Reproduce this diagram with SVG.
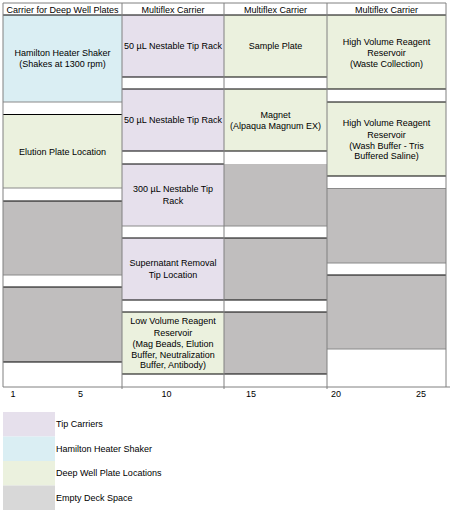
<svg xmlns="http://www.w3.org/2000/svg" width="451" height="515" viewBox="0 0 451 515">
<style>
text{font-family:"Liberation Sans",Arial,sans-serif;font-size:9px;fill:#000;text-anchor:middle;dominant-baseline:central}
.lg{text-anchor:start}
.tip{fill:#E6E0EC}
.hhs{fill:#DAEEF3}
.dwp{fill:#EBF1DE}
.emp{fill:#C0BEBE}
.emp2{fill:#D8D8D8}
.bk{stroke:#000;stroke-width:1}
.gy{stroke:#8a8a8a;stroke-width:1}
.fr{stroke:#808080;stroke-width:1;fill:none}
</style>
<rect x="0" y="0" width="451" height="515" fill="#fff"/>

<g id="col1">
  <g id="heater-shaker"><rect class="hhs" x="3" y="15" width="119" height="87"/>
    <text x="62.5" y="53">Hamilton Heater Shaker</text><text x="62.5" y="63.5">(Shakes at 1300 rpm)</text></g>
  <g id="elution-plate"><rect class="dwp" x="3" y="114.5" width="119" height="73.5"/>
    <text x="62.5" y="151.5">Elution Plate Location</text></g>
  <g id="c1-empty1"><rect class="emp" x="3" y="201" width="119" height="74"/></g>
  <g id="c1-empty2"><rect class="emp" x="3" y="287" width="119" height="75"/></g>
</g>

<g id="col2">
  <g id="tip50a"><rect class="tip" x="122" y="15" width="102" height="62"/>
    <text x="173" y="45.5">50 µL Nestable Tip Rack</text></g>
  <g id="tip50b"><rect class="tip" x="122" y="89" width="102" height="62"/>
    <text x="173" y="120">50 µL Nestable Tip Rack</text></g>
  <g id="tip300"><rect class="tip" x="122" y="164" width="102" height="62"/>
    <text x="173" y="188.5">300 µL Nestable Tip</text><text x="173" y="200.5">Rack</text></g>
  <g id="supernatant"><rect class="tip" x="122" y="238" width="102" height="62"/>
    <text x="173" y="262.5">Supernatant Removal</text><text x="173" y="275">Tip Location</text></g>
  <g id="low-volume"><rect class="dwp" x="122" y="312" width="102" height="62"/>
    <text x="173" y="320.5">Low Volume Reagent</text><text x="173" y="333">Reservoir</text>
    <text x="173" y="344">(Mag Beads, Elution</text><text x="173" y="354.5">Buffer, Neutralization</text>
    <text x="173" y="365">Buffer, Antibody)</text></g>
</g>

<g id="col3">
  <g id="sample-plate"><rect class="dwp" x="224" y="15" width="103" height="62"/>
    <text x="275.5" y="45.5">Sample Plate</text></g>
  <g id="magnet"><rect class="dwp" x="224" y="89" width="103" height="62"/>
    <text x="275.5" y="115">Magnet</text><text x="275.5" y="126">(Alpaqua Magnum EX)</text></g>
  <g id="c3-empty1"><rect class="emp" x="224" y="164" width="103" height="62"/></g>
  <g id="c3-empty2"><rect class="emp" x="224" y="238" width="103" height="62"/></g>
  <g id="c3-empty3"><rect class="emp" x="224" y="312" width="103" height="62"/></g>
</g>

<g id="col4">
  <g id="hv-waste"><rect class="dwp" x="327" y="15" width="119" height="74"/>
    <text x="386.5" y="41.5">High Volume Reagent</text><text x="386.5" y="52.5">Reservoir</text>
    <text x="386.5" y="63.5">(Waste Collection)</text></g>
  <g id="hv-wash"><rect class="dwp" x="327" y="102" width="119" height="74"/>
    <text x="386.5" y="122.5">High Volume Reagent</text><text x="386.5" y="135">Reservoir</text>
    <text x="386.5" y="145.5">(Wash Buffer - Tris</text><text x="386.5" y="155.5">Buffered Saline)</text></g>
  <g id="c4-empty1"><rect class="emp" x="327" y="188.5" width="119" height="74.5"/></g>
  <g id="c4-empty2"><rect class="emp" x="327" y="275" width="119" height="74"/></g>
</g>

<g id="lines">
  <line class="bk" x1="3" y1="15" x2="446" y2="15"/>
  <line class="gy" x1="3" y1="102" x2="122" y2="102"/>
  <line class="bk" x1="3" y1="114.5" x2="122" y2="114.5"/>
  <line class="gy" x1="3" y1="188" x2="122" y2="188"/>
  <line class="bk" x1="3" y1="201" x2="122" y2="201"/>
  <line class="gy" x1="3" y1="275" x2="122" y2="275"/>
  <line class="bk" x1="3" y1="287" x2="122" y2="287"/>
  <line class="bk" x1="3" y1="362" x2="122" y2="362"/>

  <line class="bk" x1="122" y1="77" x2="327" y2="77"/>
  <line class="bk" x1="122" y1="89" x2="327" y2="89"/>
  <line class="bk" x1="122" y1="151" x2="327" y2="151"/>
  <line class="bk" x1="122" y1="164" x2="224" y2="164"/>
  <line class="gy" x1="122" y1="226" x2="327" y2="226"/>
  <line class="bk" x1="122" y1="238" x2="327" y2="238"/>
  <line class="bk" x1="122" y1="300" x2="327" y2="300"/>
  <line class="bk" x1="122" y1="312" x2="327" y2="312"/>
  <line class="bk" x1="122" y1="374" x2="327" y2="374"/>

  <line class="bk" x1="327" y1="89" x2="446" y2="89"/>
  <line class="bk" x1="327" y1="102" x2="446" y2="102"/>
  <line class="bk" x1="327" y1="176" x2="446" y2="176"/>
  <line class="gy" x1="327" y1="188.5" x2="446" y2="188.5"/>
  <line class="gy" x1="327" y1="263" x2="446" y2="263"/>
  <line class="bk" x1="327" y1="275" x2="446" y2="275"/>
  <line class="gy" x1="327" y1="349" x2="446" y2="349"/>

  <line class="fr" x1="3" y1="3" x2="446" y2="3"/>
  <line class="fr" x1="3" y1="387" x2="450" y2="387"/>
  <line class="fr" x1="3" y1="3" x2="3" y2="387"/>
  <line class="fr" x1="122" y1="3" x2="122" y2="389"/>
  <line class="fr" x1="224" y1="3" x2="224" y2="389"/>
  <line class="fr" x1="327" y1="3" x2="327" y2="389"/>
  <line class="fr" x1="446" y1="3" x2="446" y2="387"/>
</g>

<g id="headers">
  <text x="62.5" y="9.5">Carrier for Deep Well Plates</text>
  <text x="173" y="9.5">Multiflex Carrier</text>
  <text x="275.5" y="9.5">Multiflex Carrier</text>
  <text x="386.5" y="9.5">Multiflex Carrier</text>
</g>

<g id="axis">
  <text x="13" y="393.5">1</text>
  <text x="80.5" y="393.5">5</text>
  <text x="166.5" y="393.5">10</text>
  <text x="251" y="393.5">15</text>
  <text x="336" y="393.5">20</text>
  <text x="421" y="393.5">25</text>
</g>

<g id="legend">
  <rect class="tip" x="3" y="412" width="52" height="24.5"/>
  <rect class="hhs" x="3" y="436.5" width="52" height="24.5"/>
  <rect class="dwp" x="3" y="461" width="52" height="24.5"/>
  <rect class="emp2" x="3" y="485.5" width="52" height="24.5"/>
  <text class="lg" x="56" y="424">Tip Carriers</text>
  <text class="lg" x="56" y="449">Hamilton Heater Shaker</text>
  <text class="lg" x="56" y="473">Deep Well Plate Locations</text>
  <text class="lg" x="56" y="498">Empty Deck Space</text>
</g>
</svg>
